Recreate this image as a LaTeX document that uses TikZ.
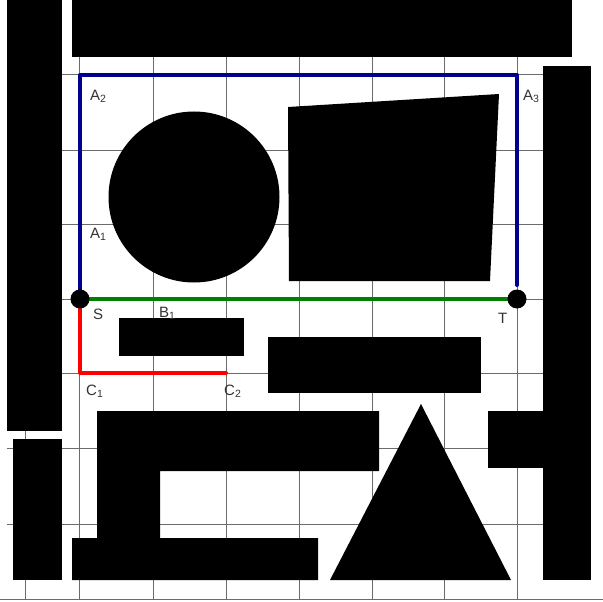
\documentclass[tikz,border=0pt]{standalone}
\usepackage{fontspec}
\newfontfamily\labfont{Liberation Sans}
\begin{document}
\begin{tikzpicture}[x=1pt,y=-1pt,
  gridline/.style={draw=black!58,line width=1pt},
  obst/.style={fill=black,draw=none},
  lab/.style={font=\labfont\fontsize{15}{17}\selectfont,text=black!80,inner sep=0pt,anchor=base west},
  bluepath/.style={draw={rgb,255:red,0;green,0;blue,140},line width=4pt,line cap=round,line join=round},
  greenpath/.style={draw={rgb,255:red,0;green,128;blue,0},line width=4pt,line cap=round},
  redpath/.style={draw={rgb,255:red,255;green,0;blue,0},line width=4pt,line cap=round,line join=round},
  dot/.style={circle,fill=black,minimum size=19pt,inner sep=0pt}]
\useasboundingbox (0,0) rectangle (603,602);
\fill[white] (0,0) rectangle (603,602);
% grid
\foreach \gx in {25,79,153,226,299,372,444,517}{\draw[gridline] (\gx,57) -- (\gx,599);}
\foreach \gy in {75,150,224,299,373,448,524}{\draw[gridline] (7,\gy) -- (543,\gy);}
\draw[gridline] (0,599) -- (603,599);
% obstacles
\fill[obst] (7,0) rectangle (62,431);
\fill[obst] (72,0) rectangle (572,57);
\fill[obst] (543,66) rectangle (591,580);
\fill[obst] (194,197) circle (85.5);
\fill[obst] (288,107) -- (499,94) -- (490,281) -- (289,281) -- cycle;
\fill[obst] (119,318) rectangle (244,356);
\fill[obst] (268,337) rectangle (481,393);
\fill[obst] (13,439) rectangle (62,580);
\fill[obst] (97,411) -- (379,411) -- (379,471) -- (160,471) -- (160,538) -- (318,538) -- (318,580) -- (72,580) -- (72,538) -- (97,538) -- cycle;
\fill[obst] (421,404) -- (511,580) -- (330,580) -- cycle;
\fill[obst] (488,411) rectangle (543,468);
% path points
\coordinate (S) at (80,299);
\coordinate (T) at (517,299);
\coordinate (A2c) at (80,75);
\coordinate (A3c) at (517,75);
\coordinate (Tend) at (517,285);
\coordinate (C1c) at (80,373);
\coordinate (C2c) at (226,373);
% paths
\draw[bluepath] (S) -- (A2c) -- (A3c) -- (Tend);
\draw[greenpath] (S) -- (T);
\draw[redpath] (S) -- (C1c) -- (C2c);
\node[dot] (Sdot) at (S) {};
\node[dot] (Tdot) at (T) {};
% labels
\node[lab] (lA2) at (90,100) {A\textsubscript{2}};
\node[lab] (lA3) at (523,100) {A\textsubscript{3}};
\node[lab] (lA1) at (90,238) {A\textsubscript{1}};
\node[lab] (lS) at (93,319) {S};
\node[lab] (lB1) at (159,317) {B\textsubscript{1}};
\node[lab] (lC1) at (86,395) {C\textsubscript{1}};
\node[lab] (lC2) at (224,395) {C\textsubscript{2}};
\node[lab] (lT) at (498,323) {T};
\end{tikzpicture}
\end{document}
